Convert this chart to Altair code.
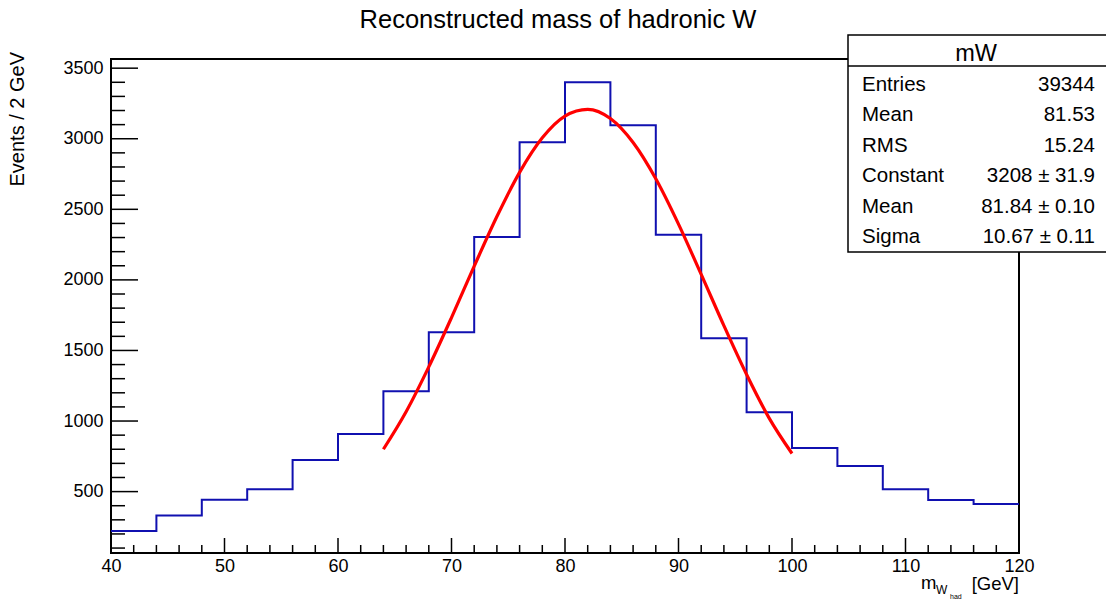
import altair as alt
import pandas as pd

# ---- data ----
bin_edges = [40, 44, 48, 52, 56, 60, 64, 68, 72, 76, 80, 84, 88, 92, 96, 100, 104, 108, 112, 116, 120]
bin_counts = [221, 330, 443, 516, 724, 908, 1211, 1629, 2304, 2975, 3400, 3095, 2320, 1586, 1062, 809, 682, 516, 441, 412]

fit_x = [64, 66, 68, 70, 72, 74, 76, 78, 80, 82, 84, 86, 88, 90, 92, 94, 96, 98, 100]
fit_y = [800, 1066, 1384, 1733, 2097, 2449, 2762, 3007, 3161, 3208, 3143, 2973, 2716, 2395, 2039, 1676, 1330, 1019, 770]

stat_labels = ["Entries", "Mean", "RMS", "Constant", "Mean", "Sigma"]
stat_values = ["39344", "81.53", "15.24", "3208 \u00b1 31.9", "81.84 \u00b1 0.10", "10.67 \u00b1 0.11"]
stat_title = "mW"

x_major = [40, 50, 60, 70, 80, 90, 100, 110, 120]
x_minor = [v for v in range(40, 121, 2) if v % 10 != 0]
y_major = [500, 1000, 1500, 2000, 2500, 3000, 3500]
y_minor = [v for v in range(100, 3501, 100) if v % 500 != 0]

title_text = "Reconstructed mass of hadronic W"
y_title = "Events / 2 GeV"

FONT = "Liberation Sans"
W, H = 908, 494
XDOM = [40, 120]
YDOM = [65, 3565]

xscale = alt.Scale(domain=XDOM, zero=False, nice=False)
yscale = alt.Scale(domain=YDOM, zero=False, nice=False)
xaxis = alt.Axis(values=x_major, format="d", ticks=False, domain=False, grid=False, title=None,
                 labelFont=FONT, labelFontSize=18, labelColor="black", labelPadding=4,
                 labelFlush=False, labelOverlap=False)
yaxis = alt.Axis(values=y_major, format="d", ticks=False, domain=False, grid=False, title=None,
                 labelFont=FONT, labelFontSize=18, labelColor="black", labelPadding=8,
                 labelOverlap=False)

# histogram step line
hist_df = pd.DataFrame({"x": bin_edges, "y": bin_counts + [bin_counts[-1]]})
hist = alt.Chart(hist_df).mark_line(interpolate="step-after", color="#1010b0", strokeWidth=2).encode(
    x=alt.X("x:Q", scale=xscale, axis=xaxis),
    y=alt.Y("y:Q", scale=yscale, axis=yaxis),
)

fit_df = pd.DataFrame({"x": fit_x, "y": fit_y})
fit = alt.Chart(fit_df).mark_line(interpolate="monotone", color="#ff0000", strokeWidth=3.2).encode(
    x=alt.X("x:Q", scale=xscale, axis=xaxis),
    y=alt.Y("y:Q", scale=yscale, axis=yaxis),
)

# inward ticks
def yticks(vals, length):
    return alt.Chart(pd.DataFrame({"v": vals})).mark_rule(color="black", strokeWidth=1.5).encode(
        y=alt.Y("v:Q", scale=yscale, axis=yaxis), x=alt.value(0), x2=alt.value(length))

def xticks(vals, length):
    return alt.Chart(pd.DataFrame({"v": vals})).mark_rule(color="black", strokeWidth=1.5).encode(
        x=alt.X("v:Q", scale=xscale, axis=xaxis), y=alt.value(H), y2=alt.value(H - length))

one = pd.DataFrame({"t": [""]})

def text(t, x, y, size, align="left", baseline="middle", angle=0):
    return alt.Chart(pd.DataFrame({"t": [t]})).mark_text(
        font=FONT, fontSize=size, color="black", align=align, baseline=baseline, angle=angle
    ).encode(x=alt.value(x), y=alt.value(y), text="t:N")

# stats box
box = alt.Chart(one).mark_rect(fill="white", stroke="black", strokeWidth=1.5).encode(
    x=alt.value(737), x2=alt.value(1000), y=alt.value(-24), y2=alt.value(193))
sep = alt.Chart(one).mark_rule(color="black", strokeWidth=1.5).encode(
    x=alt.value(737), x2=alt.value(1000), y=alt.value(7))

layers = [hist, fit, yticks(y_major, 27), yticks(y_minor, 14), xticks(x_major, 15), xticks(x_minor, 8),
          box, sep, text(stat_title, 865, -5, 23.5, align="center")]
row_y = [26, 56, 87, 117, 148, 178]
for lab, val, ry in zip(stat_labels, stat_values, row_y):
    layers.append(text(lab, 751, ry, 20.5))
    layers.append(text(val, 984, ry, 20.5, align="right"))

# title and axis titles
layers.append(text(title_text, 447, -39, 25.5, align="center"))
layers.append(text(y_title, -93, -7, 20, align="right", angle=270))
layers.append(text("[GeV]", 908, 531, 18.5, align="right", baseline="alphabetic"))
layers.append(text("m", 810, 530, 18.5, baseline="alphabetic"))
layers.append(text("W", 825, 535, 12, baseline="alphabetic"))
layers.append(text("had", 839, 540, 7, baseline="alphabetic"))

chart = alt.layer(*layers).properties(
    width=W, height=H,
    autosize=alt.AutoSizeParams(type="none"),
    padding={"left": 111, "top": 59, "right": 87, "bottom": 46},
    background="white",
).configure_view(stroke="black", strokeWidth=2)

chart.save("out.html", embed_options={"renderer": "svg", "actions": False})
